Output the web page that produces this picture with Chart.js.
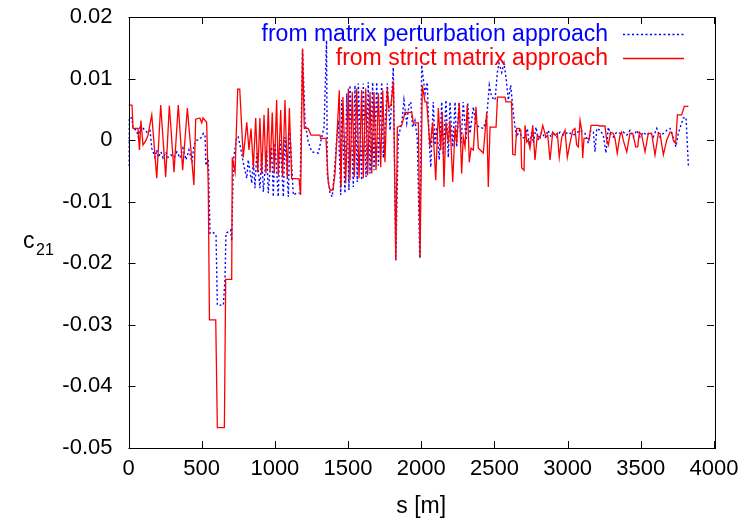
<!DOCTYPE html>
<html>
<head>
<meta charset="utf-8">
<script src="https://cdn.jsdelivr.net/npm/chart.js@4"></script>
<style>
  html, body { margin: 0; padding: 0; background: #fff; }
  canvas { display: block; }
</style>
</head>
<body>
<canvas id="myChart" width="743" height="525"></canvas>
<script>
'use strict';

// strict matrix approach (red, solid)
const sRed = [
    0, 24, 31, 65, 75, 85, 99, 120, 133, 159,
    193, 220, 254, 279, 311, 340, 370, 402, 447, 459,
    488, 500, 509, 534, 545, 553, 596, 607, 655, 664,
    705, 709, 728, 746, 760, 784, 808, 823, 837, 853,
    869, 883, 898, 910, 926, 939, 955, 967, 982, 996,
    1012, 1023, 1040, 1053, 1069, 1085, 1099, 1115, 1165, 1176,
    1189, 1201, 1228, 1247, 1308, 1313, 1349, 1365, 1377, 1397,
    1411, 1440, 1452, 1465, 1484, 1502, 1513, 1529, 1543, 1559,
    1575, 1593, 1604, 1621, 1634, 1650, 1662, 1677, 1691, 1707,
    1723, 1737, 1752, 1768, 1779, 1793, 1810, 1826, 1837, 1867,
    1889, 1935, 1946, 1980, 1992, 2007, 2026, 2037, 2060, 2078,
    2099, 2117, 2133, 2144, 2155, 2169, 2185, 2196, 2215, 2231,
    2242, 2260, 2276, 2287, 2299, 2315, 2328, 2340, 2356, 2374,
    2390, 2424, 2447, 2458, 2470, 2511, 2521, 2572, 2579, 2617,
    2625, 2641, 2652, 2670, 2680, 2686, 2702, 2709, 2721, 2731,
    2743, 2762, 2777, 2793, 2811, 2830, 2852, 2864, 2880, 2898,
    2914, 2930, 2943, 2960, 2982, 2998, 3016, 3035, 3050, 3062,
    3073, 3085, 3096, 3103, 3112, 3148, 3160, 3210, 3216, 3255,
    3267, 3278, 3294, 3312, 3324, 3339, 3358, 3369, 3380, 3404,
    3426, 3445, 3465, 3479, 3490, 3506, 3529, 3551, 3574, 3597,
    3620, 3631, 3654, 3677, 3700, 3711, 3722, 3738, 3750, 3779,
    3797, 3825
];
const cRed = [
    0.0057, 0.0057, 0.0019, 0.0019, -0.0016, 0.0032, -0.0008, 0, 0.0008, 0.0041,
    -0.0062, 0.0057, -0.006, 0.0056, -0.0052, 0.0057, -0.0049, 0.0052, -0.0073, 0.0034,
    0.0036, 0.0028, 0.0036, 0.0029, -0.0076, -0.0292, -0.0292, -0.0467, -0.0467, -0.0226,
    -0.0226, -0.0028, -0.0052, 0.0083, 0.0083, -0.0028, 0.0029, -0.0016, 0.0019, -0.0045,
    0.0036, -0.0052, 0.0036, -0.0054, 0.0041, -0.0054, 0.0052, -0.0052, 0.0045, -0.0054,
    0.0065, -0.0057, 0.0049, -0.006, 0.0065, -0.006, 0.0052, -0.0062, -0.0063, -0.0089,
    0.0149, 0.0019, 0.0019, 0.0008, 0.0008, 0.0003, 0.0003, -0.007, -0.0081, -0.0081,
    -0.0054, 0.0081, -0.0076, 0.007, -0.007, 0.0084, -0.0065, 0.0078, -0.006, 0.0084,
    -0.0062, 0.0081, -0.0062, 0.0084, -0.0057, 0.0078, -0.0054, 0.0078, -0.0049, 0.0076,
    -0.0044, 0.0081, -0.0036, 0.0084, 0.0052, 0.0057, 0.0095, -0.0195, 0.0021, 0.0024,
    0.0045, 0.0045, 0.0028, 0.0028, -0.019, 0.0089, 0.0062, 0.0062, -0.0011, 0.0029,
    -0.0065, 0.0052, -0.0016, 0.0045, -0.0076, 0.0029, -0.0005, 0.0032, -0.0068, 0.0021,
    -0.0005, 0.006, -0.0054, 0.0005, -0.0011, 0.0057, -0.0036, -0.0013, -0.0016, 0.0054,
    -0.0013, -0.0021, 0.0045, -0.0076, 0.0021, 0.0021, 0.007, 0.007, 0.0062, 0.0062,
    -0.0023, -0.0024, 0.0019, 0.0019, 0.0016, -0.0045, -0.0049, 0.0024, -0.0003, 0,
    -0.0013, 0.0024, -0.0032, 0.0008, 0.0003, 0.0024, 0.0005, 0.0008, -0.0032, 0.0013,
    0.0008, 0.0011, -0.0028, 0.0005, 0.0016, -0.0028, -0.0005, 0.0016, 0.0019, -0.0008,
    -0.0011, 0.0032, 0.0016, -0.0029, 0.0003, 0.0003, 0.0024, 0.0024, 0.0023, 0.0023,
    0, -0.0008, 0.0013, 0.0011, 0.0003, -0.0021, 0.0008, 0.0013, 0, -0.0019,
    0.0011, 0.0011, -0.0011, -0.0011, 0.0013, 0.0008, -0.0019, 0.0011, 0.0011, -0.0024,
    0.0011, 0.0011, -0.0024, 0, 0.0013, 0.0013, 0, -0.0005, 0.0041, 0.0041,
    0.0055, 0.0055
];

// matrix perturbation approach (blue, dotted)
const sBlue = [
    0, 3, 24, 31, 56, 67, 79, 101, 124, 147,
    159, 181, 193, 204, 222, 236, 256, 270, 290, 311,
    331, 352, 372, 393, 413, 434, 447, 466, 478, 500,
    511, 523, 529, 545, 557, 568, 584, 598, 607, 648,
    659, 666, 682, 698, 705, 717, 739, 750, 773, 784,
    808, 818, 842, 853, 864, 876, 898, 910, 921, 944,
    955, 978, 989, 1001, 1023, 1035, 1058, 1069, 1092, 1103,
    1126, 1149, 1172, 1189, 1206, 1228, 1252, 1297, 1320, 1336,
    1353, 1358, 1377, 1392, 1406, 1422, 1433, 1450, 1456, 1479,
    1491, 1506, 1513, 1536, 1547, 1563, 1570, 1593, 1604, 1623,
    1638, 1650, 1668, 1677, 1696, 1707, 1730, 1741, 1768, 1787,
    1809, 1826, 1843, 1867, 1882, 1901, 1916, 1928, 1941, 1957,
    1973, 1990, 2003, 2026, 2041, 2055, 2065, 2082, 2094, 2105,
    2123, 2140, 2151, 2169, 2185, 2196, 2215, 2231, 2242, 2258,
    2272, 2287, 2306, 2317, 2333, 2356, 2374, 2401, 2424, 2447,
    2465, 2481, 2504, 2520, 2531, 2550, 2565, 2579, 2595, 2611,
    2629, 2641, 2652, 2670, 2686, 2709, 2725, 2738, 2755, 2766,
    2784, 2800, 2823, 2846, 2866, 2887, 2899, 2925, 2948, 2971,
    3005, 3039, 3085, 3119, 3141, 3158, 3176, 3187, 3199, 3222,
    3244, 3262, 3278, 3290, 3312, 3335, 3358, 3381, 3404, 3426,
    3449, 3472, 3495, 3517, 3540, 3563, 3585, 3609, 3631, 3654,
    3677, 3700, 3722, 3740, 3756, 3779, 3790, 3809, 3825
];
const cBlue = [
    -0.0042, 0.0036, 0.0036, 0.0019, 0.0016, 0.0005, 0.0021, 0.0019, 0.0013, 0.0016,
    -0.0013, -0.0028, -0.0016, -0.0028, -0.0019, -0.0029, -0.0019, -0.0028, -0.0024, -0.0028,
    -0.0019, -0.0029, -0.0013, -0.0032, -0.0016, -0.0036, -0.0008, 0, 0, 0.0005,
    0.0011, 0.0008, -0.0041, -0.0032, -0.0151, -0.0149, -0.0151, -0.0154, -0.0268, -0.0268,
    -0.0227, -0.0151, -0.0149, -0.0146, -0.0164, -0.0032, 0.0005, 0.0005, -0.0021, -0.0037,
    -0.0062, -0.0032, -0.007, -0.0032, -0.0078, -0.0021, -0.0078, -0.0021, -0.0084, -0.0016,
    -0.0086, -0.0011, -0.0092, -0.0005, -0.0092, 0, -0.0092, 0.0005, -0.0092, 0.0013,
    -0.0089, -0.0086, -0.0086, 0.0146, 0.0029, -0.0003, -0.0019, -0.0021, 0.0005, 0.0021,
    0.0162, -0.0054, -0.0086, -0.0092, -0.0054, 0, 0.0032, -0.0089, 0.0065, -0.0086,
    0.0076, -0.0081, 0.0089, -0.0076, 0.0089, -0.0068, 0.0092, -0.0065, 0.0092, -0.006,
    0.0094, -0.0054, 0.0094, -0.0049, 0.0094, -0.0041, 0.0094, -0.0029, 0.0092, 0.0016,
    0.0118, -0.0195, 0.0005, 0.0028, 0.0065, 0.0028, 0.0057, 0.0062, 0.0021, 0.0032,
    0.0003, -0.0192, 0.0122, 0.0076, 0.0094, -0.0005, -0.0044, 0.0062, -0.0008, 0.0021,
    -0.0032, 0.0062, -0.0024, 0.0065, -0.0028, 0.0062, -0.0011, 0.0062, -0.0011, 0.0062,
    -0.0005, 0.0062, 0, 0.006, 0.0011, 0.0054, 0.0024, 0.0021, 0.0019, 0.0036,
    0.0089, 0.007, 0.0065, 0.011, 0.0125, 0.011, 0.0125, 0.0102, 0.0065, 0.0089,
    0.0044, 0.0021, 0.0005, 0.0016, 0.0005, 0.0003, 0.0019, -0.0008, 0.0013, -0.0005,
    0.0021, 0, 0.0013, 0.0003, 0.0016, 0.0005, 0.0013, 0.0005, 0.0013, 0.0008,
    0.0013, 0.0008, 0.0016, 0.0011, -0.0005, 0.0016, 0.0013, -0.0019, 0.0019, 0.0016,
    0.0008, -0.0021, 0.0021, 0.0011, 0.0005, 0.0013, 0.0011, 0.0013, 0.0008, 0.0016,
    0.0005, 0.0016, 0.0005, 0.0013, 0.0008, 0.0013, 0.0005, 0.0019, 0.0005, 0.0011,
    0.0016, 0.0019, 0.0003, -0.0011, 0.0011, 0.0028, 0.0036, 0.0037, -0.0042
];

const seriesLabels = ['from matrix perturbation approach', 'from strict matrix approach'];
const xTicks = [0, 500, 1000, 1500, 2000, 2500, 3000, 3500, 4000];
const yTicks = [0.02, 0.01, 0, -0.01, -0.02, -0.03, -0.04, -0.05];

if (sRed.length !== cRed.length || sBlue.length !== cBlue.length) {
    console.error('length mismatch', sRed.length, cRed.length, sBlue.length, cBlue.length);
}

const FONT = 'Liberation Sans, Arial, Helvetica, sans-serif';
const toXY = (s, c) => s.map((v, i) => ({ x: v, y: c[i] }));

// gnuplot like frame: box, inward ticks on all sides, legend, axis titles
const gnuFrame = {
    id: 'gnuFrame',
    afterDatasetsDraw(chart) {
        const ctx = chart.ctx;
        const a = chart.chartArea;
        const xs = chart.scales.x, ys = chart.scales.y;
        const tl = 7;
        ctx.save();
        ctx.strokeStyle = '#000';
        ctx.lineWidth = 1;
        ctx.setLineDash([]);
        ctx.beginPath();
        xTicks.forEach((v) => {
            const px = Math.round(xs.getPixelForValue(v)) + 0.5;
            ctx.moveTo(px, a.bottom); ctx.lineTo(px, a.bottom - tl);
            ctx.moveTo(px, a.top); ctx.lineTo(px, a.top + tl);
        });
        yTicks.forEach((v) => {
            const py = Math.round(ys.getPixelForValue(v)) + 0.5;
            ctx.moveTo(a.left, py); ctx.lineTo(a.left + tl, py);
            ctx.moveTo(a.right, py); ctx.lineTo(a.right - tl, py);
        });
        ctx.stroke();
        ctx.strokeRect(Math.round(a.left) + 0.5, Math.round(a.top) + 0.5,
            Math.round(a.right - a.left), Math.round(a.bottom - a.top));

        // legend: perturbation on the first row, strict on the second
        const ds = chart.data.datasets;
        ctx.font = '23px ' + FONT;
        ctx.textAlign = 'right';
        ctx.textBaseline = 'middle';
        ds.forEach((d) => {
            const row = seriesLabels.indexOf(d.label) === 0 ? 34 : 58;
            ctx.fillStyle = d.borderColor;
            ctx.fillText(d.label, 608, row + 1);
            ctx.strokeStyle = d.borderColor;
            ctx.lineWidth = d.borderWidth;
            ctx.setLineDash(d.borderDash || []);
            ctx.beginPath();
            ctx.moveTo(623, row + 0.5);
            ctx.lineTo(684, row + 0.5);
            ctx.stroke();
        });
        ctx.setLineDash([]);

        // axis titles
        ctx.fillStyle = '#000';
        ctx.textAlign = 'center';
        ctx.fillText('s [m]', (a.left + a.right) / 2, 507);
        ctx.textAlign = 'left';
        ctx.fillText('c', 23, 242);
        ctx.font = '16px ' + FONT;
        ctx.fillText('21', 36, 251);
        ctx.restore();
    }
};

const config = {
    type: 'line',
    data: {
        datasets: [
            {
                label: seriesLabels[1],
                data: toXY(sRed, cRed),
                borderColor: '#ff0000',
                borderWidth: 1.3,
                pointRadius: 0,
                tension: 0,
                order: 1,
            },
            {
                label: seriesLabels[0],
                data: toXY(sBlue, cBlue),
                borderColor: '#0000ff',
                borderWidth: 1.4,
                borderDash: [2, 2.5],
                pointRadius: 0,
                tension: 0,
                order: 2,
            },
        ],
    },
    options: {
        responsive: false,
        animation: false,
        events: [],
        layout: { padding: { left: 0, right: 29, top: 17, bottom: 0 } },
        scales: {
            x: {
                type: 'linear',
                min: 0,
                max: 4000,
                afterBuildTicks: (s) => { s.ticks = xTicks.map((v) => ({ value: v })); },
                afterFit: (s) => {
                    s.height = 77;
                    s.paddingLeft = 0;
                    s.paddingRight = 0;
                },
                grid: { display: false, drawTicks: false },
                border: { display: false },
                ticks: {
                    padding: 8,
                    color: '#000',
                    font: { family: FONT, size: 22 },
                    maxRotation: 0,
                    autoSkip: false,
                    callback: (v) => String(v),
                },
            },
            y: {
                type: 'linear',
                min: -0.05,
                max: 0.02,
                afterBuildTicks: (s) => { s.ticks = yTicks.map((v) => ({ value: v })); },
                afterFit: (s) => {
                    s.width = 128.5;
                    s.paddingTop = 0;
                    s.paddingBottom = 0;
                },
                grid: { display: false, drawTicks: false },
                border: { display: false },
                ticks: {
                    padding: 16,
                    color: '#000',
                    font: { family: FONT, size: 22 },
                    autoSkip: false,
                    callback: (v) => String(Number(v.toFixed(2))),
                },
            },
        },
        plugins: {
            legend: { display: false },
            tooltip: { enabled: false },
        },
    },
    plugins: [gnuFrame],
};

const myChart = new Chart(document.getElementById('myChart'), config);
</script>
</body>
</html>
